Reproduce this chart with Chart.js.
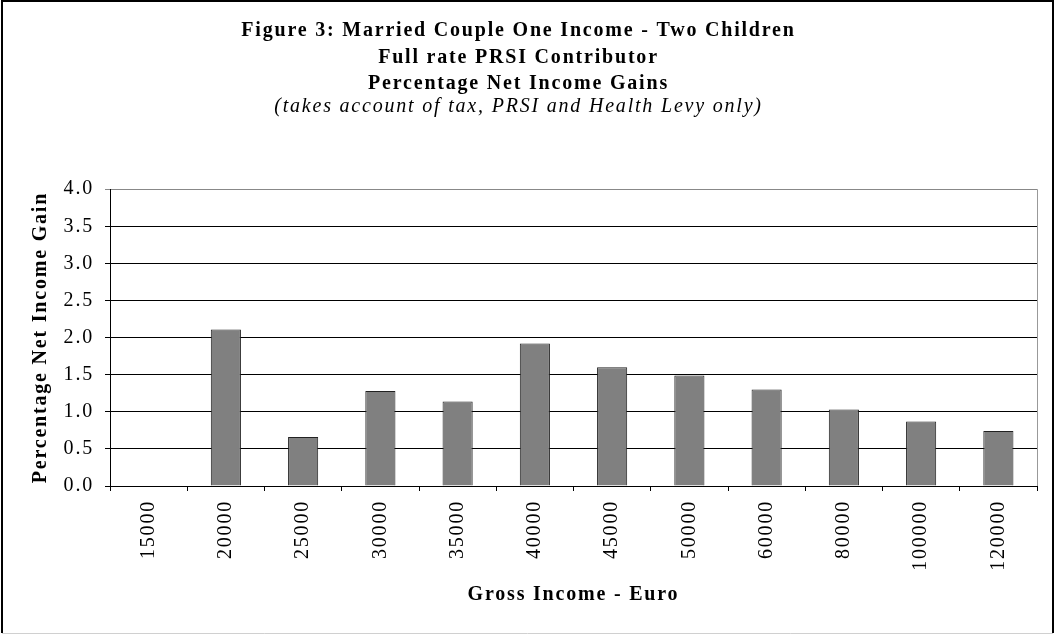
<!DOCTYPE html>
<html>
<head>
<meta charset="utf-8">
<script src="https://cdn.jsdelivr.net/npm/chart.js@4"></script>
<style>
  html, body { margin: 0; padding: 0; background: #fff; }
  #wrap { width: 1054px; height: 635px; position: relative; }
</style>
</head>
<body>
<div id="wrap"><canvas id="c" width="1054" height="635"></canvas></div>
<script>
const categories = ['15000', '20000', '25000', '30000', '35000', '40000', '45000', '50000', '60000', '80000', '100000', '120000'];
const gainValues = [0, 2.11, 0.66, 1.28, 1.14, 1.92, 1.60, 1.49, 1.30, 1.03, 0.87, 0.74];
const yTicks = [0, 0.5, 1.0, 1.5, 2.0, 2.5, 3.0, 3.5, 4.0];
const titleLines = ['Figure 3: Married Couple One Income - Two Children', 'Full rate PRSI Contributor', 'Percentage Net Income Gains'];
const subtitleText = '(takes account of tax, PRSI and Health Levy only)';
const xTitle = 'Gross Income - Euro';
const yTitle = 'Percentage Net Income Gain';

const FONT = "'Liberation Serif', 'Times New Roman', serif";

const framePlugin = {
  id: 'frame',
  beforeDraw(chart) {
    const ctx = chart.ctx;
    ctx.fillStyle = '#fff';
    ctx.fillRect(0, 0, chart.width, chart.height);
    ctx.letterSpacing = '1.8px';
  },
  afterDraw(chart) {
    const ctx = chart.ctx;
    const a = chart.chartArea;
    ctx.save();
    // right border of plot area
    ctx.strokeStyle = '#999';
    ctx.lineWidth = 1;
    ctx.beginPath();
    ctx.moveTo(Math.round(a.right) + 0.5, a.top);
    ctx.lineTo(Math.round(a.right) + 0.5, a.bottom);
    ctx.stroke();
    // outer frame
    ctx.strokeStyle = '#000';
    ctx.lineWidth = 2;
    ctx.beginPath();
    ctx.moveTo(2, chart.height - 2);
    ctx.lineTo(2, 1);
    ctx.lineTo(chart.width - 1, 1);
    ctx.lineTo(chart.width - 1, chart.height - 2);
    ctx.stroke();
    ctx.strokeStyle = '#d0d0d0';
    ctx.lineWidth = 1;
    ctx.beginPath();
    ctx.moveTo(2, chart.height - 1.5);
    ctx.lineTo(chart.width - 1, chart.height - 1.5);
    ctx.stroke();
    ctx.restore();
  }
};

new Chart(document.getElementById('c'), {
  type: 'bar',
  data: {
    labels: categories,
    datasets: [{
      data: gainValues,
      backgroundColor: '#808080',
      borderColor: '#222',
      borderWidth: 1,
      borderSkipped: 'start',
      barPercentage: 0.39,
      categoryPercentage: 1.0
    }]
  },
  options: {
    responsive: false,
    animation: false,
    events: [],
    layout: { padding: { left: 0, right: 17, top: 0, bottom: 0 } },
    plugins: {
      legend: { display: false },
      tooltip: { enabled: false },
      title: {
        display: true,
        text: titleLines,
        color: '#000',
        font: { family: FONT, size: 20, weight: 'bold', lineHeight: 1.32 },
        padding: { top: 18, bottom: 0 }
      },
      subtitle: {
        display: true,
        text: subtitleText,
        color: '#000',
        font: { family: FONT, size: 20, style: 'italic', weight: 'normal', lineHeight: 1.0 },
        padding: { top: 0, bottom: 72 }
      }
    },
    scales: {
      x: {
        type: 'category',
        offset: true,
        afterFit(scale) { scale.height = 149; },
        grid: {
          display: true,
          drawOnChartArea: false,
          drawTicks: true,
          tickLength: 5,
          offset: true,
          color: '#000',
          lineWidth: 1
        },
        border: { display: true, color: '#000', width: 1 },
        ticks: {
          color: '#000',
          font: { family: FONT, size: 20 },
          minRotation: 90,
          maxRotation: 90,
          padding: 9,
          autoSkip: false
        },
        title: {
          display: true,
          text: xTitle,
          color: '#000',
          font: { family: FONT, size: 20, weight: 'bold', lineHeight: 1.2 },
          padding: { top: 0, bottom: 28 }
        }
      },
      y: {
        min: 0,
        max: 4,
        afterFit(scale) { scale.width = 110; },
        afterBuildTicks(scale) { scale.ticks = yTicks.map(v => ({ value: v })); },
        grid: {
          display: true,
          drawTicks: true,
          tickLength: 5,
          color: (ctx) => (ctx.tick && ctx.tick.value === 4 ? '#888' : '#000'),
          lineWidth: 1
        },
        border: { display: true, color: '#000', width: 1 },
        ticks: {
          color: '#000',
          font: { family: FONT, size: 20 },
          padding: 11,
          callback: (v) => Number(v).toFixed(1)
        },
        title: {
          display: true,
          text: yTitle,
          color: '#000',
          font: { family: FONT, size: 20, weight: 'bold', lineHeight: 1.2 },
          padding: { top: 29, bottom: 0 }
        }
      }
    }
  },
  plugins: [framePlugin]
});
</script>
</body>
</html>
